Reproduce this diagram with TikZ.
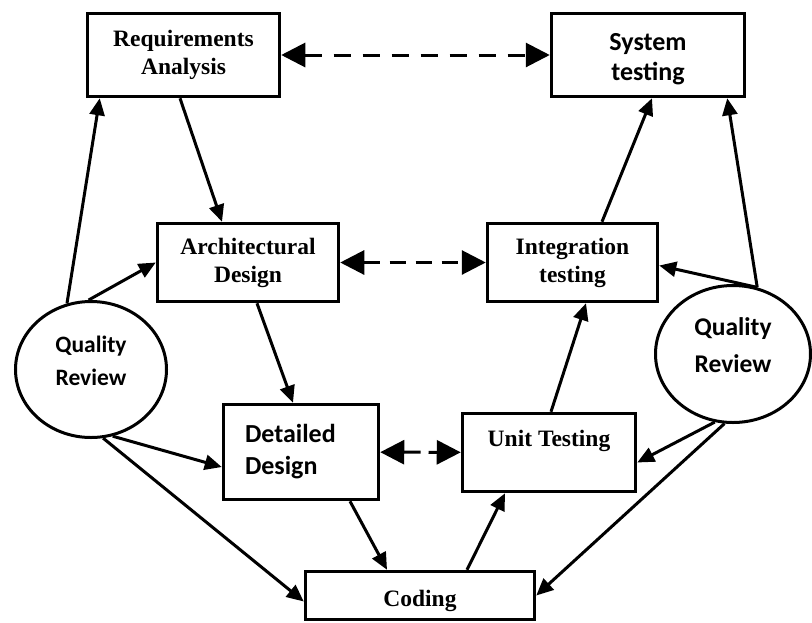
\documentclass[tikz,border=0pt]{standalone}
\usepackage{fontspec}
\setmainfont{Liberation Serif}
\newfontfamily\calfont{Carlito}
\usetikzlibrary{shapes.geometric,arrows.meta}

\begin{document}
\begin{tikzpicture}[x=1pt,y=-1pt]
\tikzset{box/.style = {draw, line width=3.5pt, inner sep=0pt, align=center, font=\bfseries\fontsize{23.5}{28}\selectfont},
  review/.style = {draw, ellipse, line width=3pt, inner sep=0pt, align=center},
  arr/.style = {line width=3pt, -{Triangle[length=17pt,width=15pt]}},
  dasharr/.style = {line width=3pt, {Triangle[length=24pt,width=24pt]}-{Triangle[length=24pt,width=24pt]}}}
\useasboundingbox (0,0) rectangle (812,622);

% the V: design on the left, testing on the right
\node[box, minimum width=192pt, minimum height=83pt] (req) at (183.5,55) {Requirements\\Analysis};
\node[box, minimum width=193pt, minimum height=83pt, font=\calfont\bfseries\fontsize{26}{30}\selectfont] (sys) at (648,55) {\mbox{}\\[-4pt]System\\testing};
\node[box, minimum width=181pt, minimum height=78pt] (arch) at (248,262.5) {Architectural\\Design};
\node[box, minimum width=170pt, minimum height=78pt] (integ) at (572.5,262.5) {Integration\\testing};
\node[box, minimum width=155pt, minimum height=95pt, text width=112pt, align=left, font=\calfont\bfseries\fontsize{26}{32}\selectfont] (det) at (301,452) {Detailed\\Design};
\node[box, minimum width=173pt, minimum height=78pt] (unit) at (549,452.5) {Unit Testing\\\mbox{}};
\node[box, minimum width=229pt, minimum height=48pt, text height=22pt, text depth=0pt] (cod) at (420,595.5) {Coding};

\node[review, minimum width=151pt, minimum height=136pt, font=\calfont\bfseries\fontsize{23.5}{33}\selectfont] (qrl) at (91,369.5) {Quality\\Review\\[-16pt]\mbox{}};
\node[review, minimum width=155pt, minimum height=137pt, font=\calfont\bfseries\fontsize{25.5}{37}\selectfont] (qrr) at (733,354) {Quality\\Review\\[-20pt]\mbox{}};

% verification links
\draw[dasharr, dash pattern=on 17pt off 12pt] (req) -- (sys);
\draw[dasharr, dash pattern=on 16pt off 10pt] (arch) -- (integ);
\draw[dasharr, dash pattern=on 17pt off 8pt] (det) -- (unit);

\draw[arr] ([xshift=-3.5pt]req.south) -- ([xshift=-26pt]arch.north);
\draw[arr] ([xshift=9pt]arch.south) -- ([xshift=-8pt]det.north);
\draw[arr] ([xshift=49pt]det.south) -- ([xshift=-33pt]cod.north);
\draw[arr] ([xshift=47pt]cod.north) -- ([xshift=-44pt]unit.south);
\draw[arr] ([xshift=2pt]unit.north) -- ([xshift=13.5pt]integ.south);
\draw[arr] ([xshift=29.5pt]integ.north) -- ([xshift=4pt]sys.south);

% quality reviews
\draw[arr] (qrl.110) -- ([xshift=14pt]req.south west);
\draw[arr] (qrl.92) -- (arch.west);
\draw[arr] (qrl.-72) -- ([yshift=-15pt]det.west);
\draw[arr] (qrl.-80) -- ([yshift=-6pt]cod.west);
\draw[arr] (qrr.70) -- ([xshift=-19pt]sys.south east);
\draw[arr] (qrr.70) -- ([yshift=-3pt]integ.east);
\draw[arr] (qrr.-105) -- ([yshift=-10pt]unit.east);
\draw[arr] (qrr.-97) -- (cod.east);
\end{tikzpicture}
\end{document}
